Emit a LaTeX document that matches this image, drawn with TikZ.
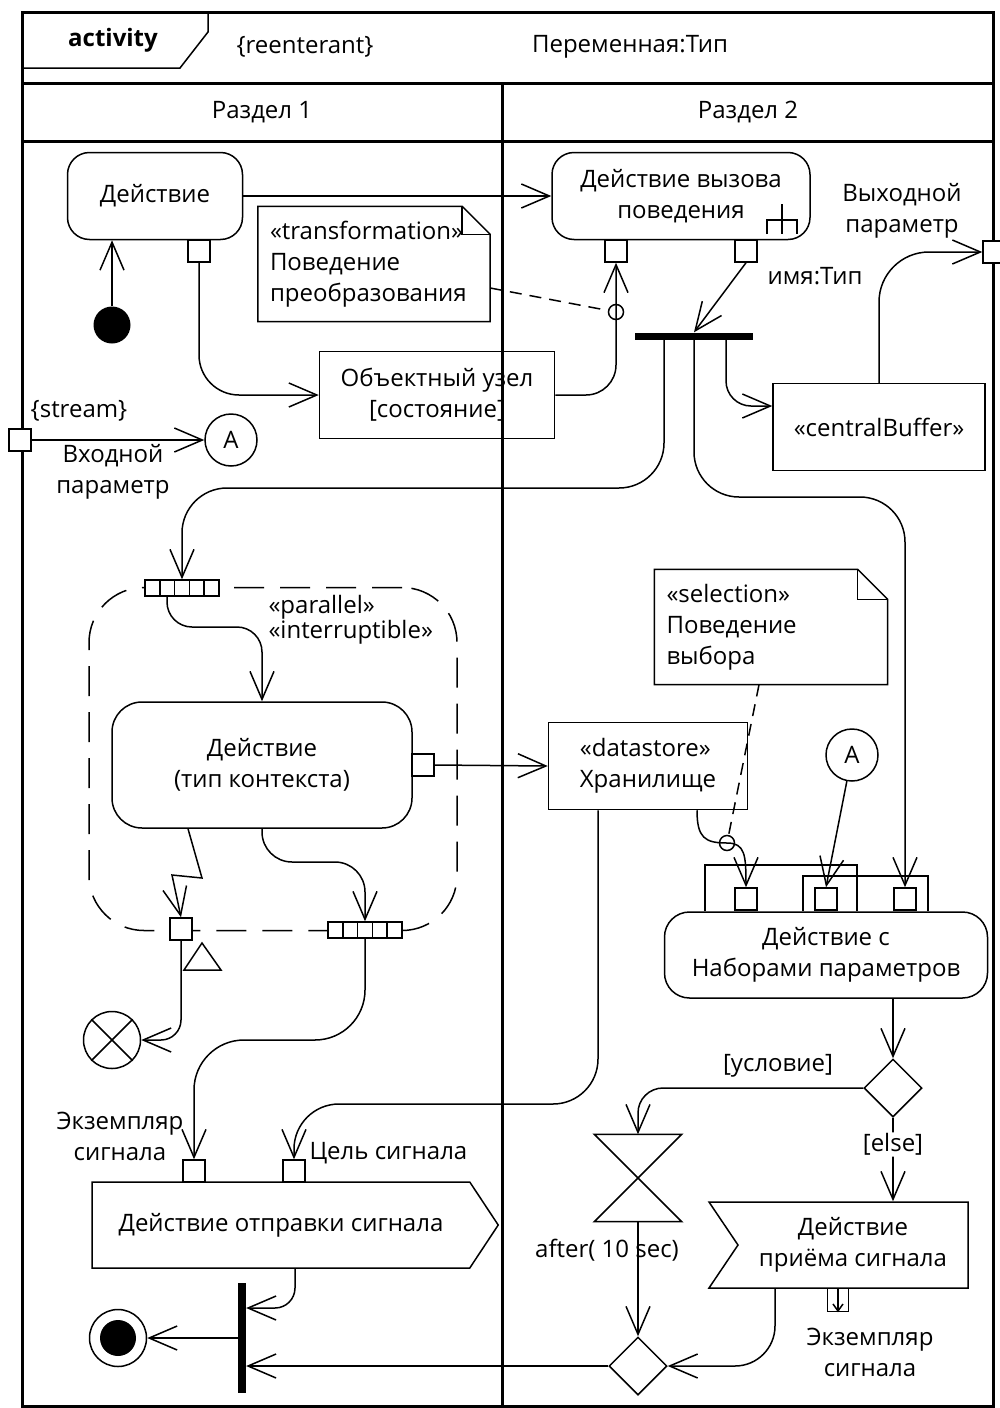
\documentclass[tikz,border=0pt]{standalone}
\usepackage{fontspec}
\setmainfont{Open Sans}
\usetikzlibrary{arrows.meta,shapes.geometric,shapes.symbols,positioning}

\begin{document}
\begin{tikzpicture}[x=1pt,y=-1pt,
    every node/.style={font=\fontsize{24pt}{31pt}\selectfont},
    ln/.style={line width=1.5pt},
    frame/.style={line width=3pt},
    action/.style={draw, ln, rounded corners=22pt, align=center},
    objbox/.style={draw, ln, align=center},
    notebox/.style={align=left, text width=208pt, minimum height=115pt, inner xsep=12pt},
    pinbox/.style={draw, ln, fill=white, minimum width=22pt, minimum height=22pt, inner sep=0pt},
    conn/.style={draw, ln, circle, minimum size=52pt, inner sep=0pt},
    selpt/.style={draw, ln, circle, minimum size=15pt, inner sep=0pt},
    bar/.style={fill, inner sep=0pt},
    decision/.style={draw, ln, diamond, minimum width=58pt, minimum height=58pt, inner sep=0pt},
    expnode/.style={draw, ln, fill=white, minimum width=74pt, minimum height=16pt, inner sep=0pt,
        path picture={\foreach \k in {1,...,4}
            \draw[ln] ([xshift=\k*14.8pt]path picture bounding box.north west)
                  -- ([xshift=\k*14.8pt]path picture bounding box.south west);}},
    sendsig/.style={draw, ln, signal, signal to=east, signal pointer angle=113,
        minimum width=406pt, minimum height=86pt, inner sep=0pt},
    accsig/.style={draw, ln, signal, signal to=nowhere, signal from=west, signal pointer angle=112,
        minimum width=259pt, minimum height=86pt, inner sep=0pt, align=center},
    flow/.style={ln, rounded corners=40pt, -{Straight Barb[length=28pt,width=24pt]}},
    ]
\useasboundingbox (0,0) rectangle (1000,1408);
%
\draw[frame] (22,12) rectangle (993,1406);
\draw[frame] (22,83) -- (993,83) (22,141) -- (993,141) (502,83) -- (502,1406);
\draw[ln] (22,68) -- (180,68) -- (208,32) -- (208,12);
\node (kind) at (113,40) {\bfseries activity};
\node (reent) at (305,47) {\{reenterant\}};
\node (var) at (630,47) {Переменная:Тип};
\node (part1) at (262,112) {Раздел 1};
\node (part2) at (748,112) {Раздел 2};
%
\node[action, minimum width=175pt, minimum height=87pt] (act1) at (155,196) {Действие};
\node[pinbox] (pin1) at (199,251) {};
\node[fill, circle, minimum size=37pt, inner sep=0pt] (init) at (112,325) {};
\node[action, minimum width=258pt, minimum height=87pt] (cbeh) at (681,196) {Действие вызова\\поведения};
\draw[ln] (782,204) -- (782,234) (767,234) -- (767,220) -- (797,220) -- (797,234);
\node[pinbox] (pinL) at (616,251) {};
\node[pinbox] (pinR) at (746,251) {};
\node[notebox] (tnote) at (374,264) {«transformation»\\Поведение\\преобразования};
\draw[ln] (tnote.south west) -- (tnote.north west) -- ([xshift=-28pt]tnote.north east)
    -- ([yshift=-28pt]tnote.north east) -- (tnote.south east) -- cycle;
\draw[ln] ([xshift=-28pt]tnote.north east) |- ([yshift=-28pt]tnote.north east);
\node[objbox, minimum width=235pt, minimum height=87pt] (obj) at (437,395) {Объектный узел\\{[состояние]}};
\node[selpt] (tsel) at (616,312) {};
\node[bar, minimum width=118pt, minimum height=7pt] (fork) at (694,336) {};
\node (typelbl) at (815,276) {имя:Тип};
\node[objbox, minimum width=212pt, minimum height=87pt] (cbuf) at (879,427) {«centralBuffer»};
\node[pinbox, minimum width=18pt] (outpin) at (992,252) {};
\node[align=center] (outlbl) at (902,211) {Выходной\\параметр};
\node[pinbox] (inpin) at (20,440) {};
\node (streamlbl) at (79,411) {\{stream\}};
\node[align=center] (inlbl) at (113,472) {Входной\\параметр};
\node[conn] (conA) at (231,440) {A};
%
\node[draw, ln, dashed, dash pattern=on 30pt off 16pt, rounded corners=55pt,
    minimum width=368pt, minimum height=343pt] (expreg) at (273,759) {};
\node[expnode] (expin) at (182,588) {};
\node[expnode] (expout) at (365,930) {};
\node[align=left, anchor=west, font=\fontsize{24pt}{23pt}\selectfont] (stereo) at (265,620) {«parallel»\\«interruptible»};
\node[action, rounded corners=30pt, minimum width=300pt, minimum height=126pt] (act3) at (262,765) {Действие\\(тип контекста)};
\node[pinbox] (pin3) at (423,765) {};
\node[pinbox] (xpin) at (181,929) {};
\draw[ln] (184,970) -- (221,970) -- (202,943) -- cycle;
\node[draw, ln, circle, minimum size=57pt, inner sep=0pt] (ff) at (112,1040) {};
\draw[ln] (ff.north east) -- (ff.south west) (ff.north west) -- (ff.south east);
%
\node[objbox, align=left, minimum width=199pt, minimum height=87pt] (store) at (648,766) {«datastore»\\Хранилище};
\node[notebox, text width=209pt, inner xsep=12pt] (snote) at (771,627) {«selection»\\Поведение\\выбора};
\draw[ln] (snote.south west) -- (snote.north west) -- ([xshift=-30pt]snote.north east)
    -- ([yshift=-30pt]snote.north east) -- (snote.south east) -- cycle;
\draw[ln] ([xshift=-30pt]snote.north east) |- ([yshift=-30pt]snote.north east);
\node[selpt] (ssel) at (727,843) {};
\node[conn] (conA2) at (852,755) {A};
\draw[ln] (705,911) |- (857,865) -- (857,911);
\draw[ln] (803,911) |- (928,876) -- (928,911);
\node[pinbox] (pp1) at (746,899) {};
\node[pinbox] (pp2) at (826,899) {};
\node[pinbox] (pp3) at (905,899) {};
\node[action, rounded corners=25pt, minimum width=323pt, minimum height=86pt] (pset) at (826,955) {Действие с\\Наборами параметров};
%
\node[decision] (dec) at (893,1088) {};
\node (condlbl) at (778,1066) {[условие]};
\node[minimum width=87pt, minimum height=87pt, inner sep=0pt] (timer) at (638,1178) {};
\draw[ln] (timer.north west) -- (timer.north east) -- (timer.south west) -- (timer.south east) -- cycle;
\node (afterlbl) at (607,1250) {after( 10 sec)};
\node[decision] (merge) at (638,1366) {};
\node[accsig] (accept) at (853,1245) {Действие\\приёма сигнала};
\node[pinbox, minimum width=21pt, minimum height=23pt] (opin) at (838,1300) {};
\draw[ln, -{Straight Barb[length=7pt,width=10pt]}] (opin.north) -- (opin.south);
\node[align=center] (acclbl) at (870,1352) {Экземпляр\\сигнала};
%
\node[sendsig] (send) at (281,1225) {Действие отправки сигнала};
\node[pinbox] (pinS1) at (194,1171) {};
\node[pinbox] (pinS2) at (294,1171) {};
\node[align=center] (instlbl) at (120,1136) {Экземпляр\\сигнала};
\node[anchor=west] (targlbl) at (306,1153) {Цель сигнала};
\node[bar, minimum width=8pt, minimum height=110pt] (join) at (242,1338) {};
\node[draw, ln, circle, minimum size=57pt, inner sep=0pt,
    path picture={\fill (path picture bounding box.center) circle[radius=18pt];}] (final) at (118,1338) {};
%
\draw[flow] (init) -- (init |- act1.south);
\draw[flow] (act1) -- (cbeh);
\draw[flow] (pin1.south) |- (obj.west);
\draw[flow, rounded corners=30pt] (obj.east) -| (pinL.south);
\draw[ln, dashed, dash pattern=on 12pt off 8pt] ([yshift=-24pt]tnote.east) -- (tsel);
\draw[flow] (pinR.south) -- (fork.north);
\draw[flow, rounded corners=25pt] ([xshift=32pt]fork.south) |- ([yshift=21pt]cbuf.west);
\draw[flow, rounded corners=50pt] (cbuf.north) |- (outpin.west);
\draw[flow, rounded corners=45pt] ([xshift=-30pt]fork.south) |- (182,488) -- (expin.north);
\draw[flow, rounded corners=45pt] (fork.south) |- (905,497) -- (pp3.north);
\draw[flow] (inpin.east) -- (conA);
\draw[flow, rounded corners=25pt] ([xshift=-15pt]expin.south) |- (262,627) -- (act3.north);
\draw[flow, rounded corners=30pt] (act3.south) |- (365,862) -- (expout.north);
\draw[flow, sharp corners] ([xshift=-74pt]act3.south) -- (202,878) -- (172,875) -- (xpin.north);
\draw[flow, rounded corners=20pt] (xpin.south) |- (ff.east);
\draw[flow] (pin3.east) -- (store.west);
\draw[ln, dashed, dash pattern=on 12pt off 8pt] ([xshift=-12pt]snote.south) -- (ssel);
\draw[flow, sharp corners] ([xshift=49pt]store.south) .. controls (697,838) and (705,843) .. (ssel.center)
    .. controls (745,843) and (746,855) .. (pp1.north);
\draw[flow] (conA2) -- (pp2.north);
\draw[flow] (dec.north |- pset.south) -- (dec.north);
\draw[flow, rounded corners=25pt] (dec.west) -| (timer.north);
\draw[flow] (dec.south) -- node[fill=white, inner sep=1pt, pos=0.32] {[else]} (dec.south |- accept.north);
\draw[flow] (timer.south) -- (merge.north);
\draw[flow] ([xshift=-78pt]accept.south) |- (merge.east);
\draw[flow] (merge.west) -- (merge.west -| join.east);
\draw[flow, rounded corners=45pt] ([xshift=-50pt]store.south) |- (294,1104) -- (pinS2.north);
\draw[flow, rounded corners=50pt] (expout.south) |- (194,1040) -- (pinS1.north);
\draw[flow, rounded corners=20pt] ([xshift=14pt]send.south) |- ([yshift=30pt]join.east);
\draw[flow] (join.west) -- (final);
\end{tikzpicture}
\end{document}
